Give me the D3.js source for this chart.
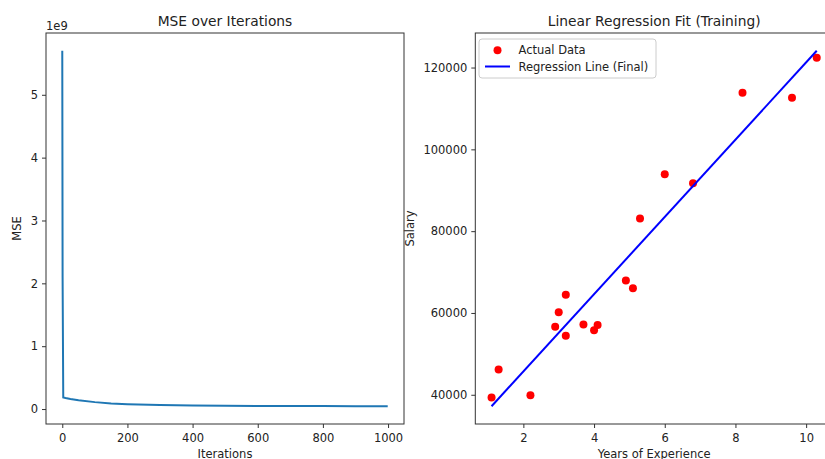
<!DOCTYPE html>
<html>
<head>
<meta charset="utf-8">
<script src="https://cdn.jsdelivr.net/npm/d3@7"></script>
<style>
  body { margin: 0; background: #fff; overflow: hidden; }
  text { font-family: "DejaVu Sans", sans-serif; fill: #222; }
  .tick text { font-size: 11.5px; fill: #222; }
  .tick line { stroke: #333; }
  .domain { display: none; }
</style>
</head>
<body>
<div id="chart"></div>
<script>
// MSE curve (values in units of 1e9)
var mseIter = [0, 1, 3, 10, 25, 50, 100, 150, 200, 300, 400, 500, 600, 700, 800, 900, 999];
var mseVal = [5.70, 2.10, 0.185, 0.175, 0.16, 0.14, 0.11, 0.09, 0.078, 0.064, 0.056, 0.052, 0.050, 0.048, 0.047, 0.046, 0.045];

// training data
var years = [1.1, 1.3, 2.2, 2.9, 3.0, 3.2, 3.2, 3.7, 4.0, 4.1, 4.9, 5.1, 5.3, 6.0, 6.8, 8.2, 9.6, 10.3];
var salary = [39343, 46205, 39891, 56642, 60150, 54445, 64445, 57189, 55794, 57081, 67938, 66029, 83088, 93940, 91738, 113812, 112635, 122391];

// final regression line end points
var lineYears = [1.1, 10.3];
var lineSalary = [37200, 124100];

var iterTicks = [0, 200, 400, 600, 800, 1000];
var mseTicks = [0, 1, 2, 3, 4, 5];
var yearTicks = [2, 4, 6, 8, 10];
var salaryTicks = [40000, 60000, 80000, 100000, 120000];

var svgWidth = 825;
var svgHeight = 459;

var svg = d3.select("#chart")
  .append("svg")
  .attr("width", svgWidth)
  .attr("height", svgHeight);

// ---------- left panel: MSE ----------
var left = { x0: 46, x1: 404, y0: 33, y1: 424 };

var xIter = d3.scaleLinear().domain([-49.95, 1048.95]).range([left.x0, left.x1]);
var yMse = d3.scaleLinear().domain([-0.238, 5.983]).range([left.y1, left.y0]);

svg.append("g")
  .attr("transform", `translate(0, ${left.y1})`)
  .call(d3.axisBottom(xIter).tickValues(iterTicks).tickFormat(d3.format("d")).tickSize(4).tickPadding(4))
  .selectAll("text").attr("dy", "0.9em");

svg.append("g")
  .attr("transform", `translate(${left.x0}, 0)`)
  .call(d3.axisLeft(yMse).tickValues(mseTicks).tickFormat(d3.format("d")).tickSize(4).tickPadding(4));

var mseData = mseIter.map(function(d, i) { return { it: d, v: mseVal[i] }; });

svg.append("path")
  .datum(mseData)
  .attr("fill", "none")
  .attr("stroke", "#1f77b4")
  .attr("stroke-width", 2)
  .attr("d", d3.line().x(d => xIter(d.it)).y(d => yMse(d.v)));

svg.append("rect")
  .attr("x", left.x0).attr("y", left.y0)
  .attr("width", left.x1 - left.x0).attr("height", left.y1 - left.y0)
  .attr("fill", "none").attr("stroke", "#333").attr("stroke-width", 1);

svg.append("text")
  .attr("x", left.x0).attr("y", 30)
  .style("font-size", "11.5px")
  .text("1e9");

svg.append("text")
  .attr("x", (left.x0 + left.x1) / 2).attr("y", 25.5)
  .attr("text-anchor", "middle")
  .style("font-size", "13.8px")
  .text("MSE over Iterations");

svg.append("text")
  .attr("x", (left.x0 + left.x1) / 2).attr("y", 457.5)
  .attr("text-anchor", "middle")
  .style("font-size", "11.5px")
  .text("Iterations");

svg.append("text")
  .attr("transform", `translate(21, ${(left.y0 + left.y1) / 2}) rotate(-90)`)
  .attr("text-anchor", "middle")
  .style("font-size", "11.5px")
  .text("MSE");

// ---------- right panel: regression ----------
var right = { x0: 475.3, x1: 833, y0: 33, y1: 424 };

var xYears = d3.scaleLinear().domain([0.64, 10.76]).range([right.x0, right.x1]);
var ySal = d3.scaleLinear().domain([32855, 128445]).range([right.y1, right.y0]);

svg.append("g")
  .attr("transform", `translate(0, ${right.y1})`)
  .call(d3.axisBottom(xYears).tickValues(yearTicks).tickFormat(d3.format("d")).tickSize(4).tickPadding(4))
  .selectAll("text").attr("dy", "0.9em");

svg.append("g")
  .attr("transform", `translate(${right.x0}, 0)`)
  .call(d3.axisLeft(ySal).tickValues(salaryTicks).tickFormat(d3.format("d")).tickSize(4).tickPadding(4));

svg.selectAll("circle.pt")
  .data(years)
  .enter()
  .append("circle")
  .attr("class", "pt")
  .attr("cx", d => xYears(d))
  .attr("cy", (d, i) => ySal(salary[i]))
  .attr("r", 4)
  .attr("fill", "red");

svg.append("path")
  .datum(lineYears.map(function(d, i) { return [d, lineSalary[i]]; }))
  .attr("fill", "none")
  .attr("stroke", "blue")
  .attr("stroke-width", 2)
  .attr("d", d3.line().x(d => xYears(d[0])).y(d => ySal(d[1])));

svg.append("rect")
  .attr("x", right.x0).attr("y", right.y0)
  .attr("width", right.x1 - right.x0).attr("height", right.y1 - right.y0)
  .attr("fill", "none").attr("stroke", "#333").attr("stroke-width", 1);

svg.append("text")
  .attr("x", (right.x0 + right.x1) / 2).attr("y", 25.5)
  .attr("text-anchor", "middle")
  .style("font-size", "13.8px")
  .text("Linear Regression Fit (Training)");

svg.append("text")
  .attr("x", (right.x0 + right.x1) / 2).attr("y", 457.5)
  .attr("text-anchor", "middle")
  .style("font-size", "11.5px")
  .text("Years of Experience");

svg.append("text")
  .attr("transform", `translate(414, ${(right.y0 + right.y1) / 2}) rotate(-90)`)
  .attr("text-anchor", "middle")
  .style("font-size", "11.5px")
  .text("Salary");

// legend
var legend = svg.append("g");
legend.append("rect")
  .attr("x", 479).attr("y", 39)
  .attr("width", 177).attr("height", 39)
  .attr("rx", 3)
  .attr("fill", "white").attr("fill-opacity", 0.8)
  .attr("stroke", "#ccc").attr("stroke-width", 1);
legend.append("circle")
  .attr("cx", 497.5).attr("cy", 50.3).attr("r", 4).attr("fill", "red");
legend.append("line")
  .attr("x1", 485).attr("x2", 510).attr("y1", 66.5).attr("y2", 66.5)
  .attr("stroke", "blue").attr("stroke-width", 2);
legend.append("text")
  .attr("x", 518.5).attr("y", 54.3)
  .style("font-size", "11.5px")
  .text("Actual Data");
legend.append("text")
  .attr("x", 518.5).attr("y", 70.6)
  .style("font-size", "11.5px")
  .text("Regression Line (Final)");
</script>
</body>
</html>
